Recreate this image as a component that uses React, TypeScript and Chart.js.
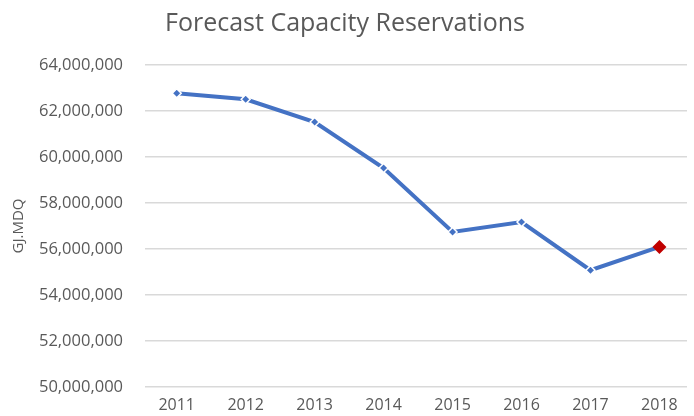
import React, { useEffect, useRef } from "react";
import { Chart, registerables } from "chart.js";

Chart.register(...registerables);

const years = [2011, 2012, 2013, 2014, 2015, 2016, 2017, 2018];
const reservations = [62770000, 62510000, 61520000, 59520000, 56740000, 57170000, 55080000, 56090000];
const yTicks = [50000000, 52000000, 54000000, 56000000, 58000000, 60000000, 62000000, 64000000];

const FONT = "'Open Sans', sans-serif";
const GREY = "#595959";

export default function App() {
  const ref = useRef<HTMLCanvasElement | null>(null);
  useEffect(() => {
    document.body.style.margin = "0";
    const ctx = ref.current!;
    const n = years.length;
    const chart = new Chart(ctx, {
      type: "line",
      data: {
        datasets: [
          {
            label: "Forecast",
            data: years.map((y, i) => ({ x: y, y: reservations[i] })),
            borderColor: "#4472C4",
            borderWidth: 4,
            pointStyle: "rectRot",
            pointRadius: years.map((_, i) => (i === n - 1 ? 7 : 4.5)),
            pointBackgroundColor: years.map((_, i) => (i === n - 1 ? "#C00000" : "#4472C4")),
            pointBorderColor: years.map((_, i) => (i === n - 1 ? "#C00000" : "#ffffff")),
            pointBorderWidth: years.map((_, i) => (i === n - 1 ? 0 : 1.5)),
            tension: 0,
          },
        ],
      },
      options: {
        animation: false,
        responsive: false,
        layout: { padding: { left: 0, right: 4, top: 0, bottom: 0 } },
        plugins: {
          legend: { display: false },
          tooltip: { enabled: false },
          title: {
            display: true,
            text: "Forecast Capacity Reservations",
            color: GREY,
            font: { family: FONT, size: 25, weight: "normal" },
            padding: { top: 9, bottom: 26 },
          },
        },
        scales: {
          x: {
            type: "linear",
            min: 2010.54,
            max: 2018.4,
            grid: { display: false, drawTicks: false },
            border: { display: false },
            afterBuildTicks: (s: any) => {
              s.ticks = years.map((v) => ({ value: v }));
            },
            afterFit: (s: any) => {
              s.height = 29;
            },
            ticks: {
              autoSkip: false,
              maxRotation: 0,
              padding: 9,
              color: GREY,
              font: { family: FONT, size: 16 },
              callback: (v: any) => String(v),
            },
          },
          y: {
            min: 50000000,
            max: 64000000,
            afterBuildTicks: (s: any) => {
              s.ticks = yTicks.map((v) => ({ value: v }));
            },
            afterFit: (s: any) => {
              s.width = 145;
            },
            grid: {
              color: "#d9d9d9",
              lineWidth: 1.5,
              drawTicks: true,
              tickLength: 14,
              tickColor: "rgba(0,0,0,0)",
            },
            border: { display: false },
            ticks: {
              padding: 8,
              color: GREY,
              font: { family: FONT, size: 16.5 },
              callback: (v: any) => Number(v).toLocaleString("en-US"),
            },
            title: {
              display: true,
              text: "GJ.MDQ",
              color: GREY,
              font: { family: FONT, size: 15 },
              padding: { top: 10, bottom: 0 },
            },
          },
        },
      },
    });
    return () => chart.destroy();
  }, []);
  return (
    <div style={{ width: 694, height: 416, background: "#fff" }}>
      <canvas ref={ref} width={694} height={416} style={{ display: "block" }} />
    </div>
  );
}
